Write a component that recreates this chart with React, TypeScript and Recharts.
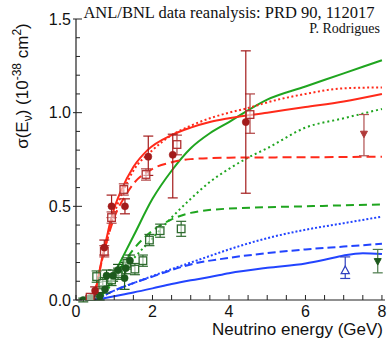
import React from 'react';
import { ComposedChart, Line, Scatter, XAxis, YAxis, ErrorBar } from 'recharts';

// Theory curves: [E (GeV), sigma (1e-38 cm^2)]
const redSolid: [number, number][] = [
  [0.45, 0], [0.5, 0.04], [0.6, 0.14], [0.7, 0.24], [0.8, 0.33], [0.9, 0.42], [1.0, 0.49],
  [1.17, 0.58], [1.5, 0.71], [1.87, 0.8], [2.5, 0.88], [3.0, 0.92], [3.5, 0.95], [4.0, 0.97],
  [5.0, 1.0], [6.0, 1.03], [7.0, 1.06], [8.0, 1.1],
];
const redDotted: [number, number][] = [
  [0.42, 0], [0.5, 0.05], [0.6, 0.14], [0.7, 0.23], [0.8, 0.31], [1.0, 0.46], [1.25, 0.59],
  [1.5, 0.69], [2.0, 0.8], [2.5, 0.88], [3.0, 0.93], [3.5, 0.97], [4.0, 1.0], [4.5, 1.025],
  [5.0, 1.055], [6.0, 1.1], [7.0, 1.13], [8.0, 1.135],
];
const redDashed: [number, number][] = [
  [0.45, 0], [0.5, 0.04], [0.6, 0.14], [0.7, 0.23], [0.8, 0.31], [1.0, 0.44], [1.3, 0.56],
  [1.5, 0.62], [2.0, 0.7], [2.5, 0.735], [3.0, 0.752], [4.0, 0.76], [6.0, 0.762], [8.0, 0.765],
];
const greenSolid: [number, number][] = [
  [0.58, 0], [0.8, 0.06], [1.0, 0.14], [1.5, 0.34], [2.0, 0.54], [2.5, 0.69], [3.0, 0.81],
  [3.5, 0.89], [4.0, 0.95], [5.0, 1.07], [6.0, 1.14], [7.0, 1.21], [8.0, 1.28],
];
const greenDotted: [number, number][] = [
  [0.6, 0], [1.0, 0.1], [1.5, 0.22], [2.0, 0.33], [2.5, 0.44], [3.0, 0.54], [3.5, 0.63],
  [4.0, 0.7], [4.5, 0.76], [5.0, 0.81], [6.0, 0.92], [7.0, 0.97], [8.0, 1.02],
];
const greenDashed: [number, number][] = [
  [0.6, 0], [1.0, 0.12], [1.5, 0.27], [2.0, 0.37], [2.5, 0.43], [3.0, 0.465], [4.0, 0.488],
  [6.0, 0.5], [8.0, 0.51],
];
const blueSolid: [number, number][] = [
  [0.5, 0], [1.0, 0.02], [1.5, 0.04], [2.0, 0.062], [2.5, 0.085], [3.0, 0.105], [3.5, 0.123],
  [4.0, 0.143], [5.0, 0.172], [6.0, 0.195], [6.5, 0.215], [7.0, 0.238], [7.5, 0.25], [8.0, 0.245],
];
const blueDashed: [number, number][] = [
  [0.5, 0], [1.0, 0.05], [1.5, 0.09], [2.0, 0.125], [2.5, 0.16], [3.0, 0.19], [4.0, 0.225],
  [5.0, 0.25], [6.0, 0.27], [7.0, 0.285], [8.0, 0.3],
];
const blueDotted: [number, number][] = [
  [0.5, 0], [1.0, 0.05], [1.5, 0.09], [2.0, 0.128], [2.5, 0.165], [3.0, 0.2], [3.5, 0.235],
  [4.0, 0.27], [5.0, 0.33], [6.0, 0.375], [7.0, 0.41], [8.0, 0.445],
];

// Data points: [E, sigma, errDown, errUp]
const redCircles: [number, number, number, number][] = [
  [0.5, 0.05, 0.02, 0.02], [0.74, 0.28, 0.04, 0.04], [0.93, 0.5, 0.06, 0.06],
  [1.28, 0.5, 0.04, 0.04], [1.89, 0.765, 0.1, 0.11], [2.53, 0.775, 0.23, 0.11],
  [4.44, 0.95, 0.38, 0.38],
];
const redSquares: [number, number, number, number][] = [
  [0.37, 0.015, 0.01, 0.01], [0.74, 0.26, 0.03, 0.03], [0.93, 0.44, 0.03, 0.03],
  [1.25, 0.59, 0.03, 0.03], [1.83, 0.67, 0.03, 0.03], [2.64, 0.83, 0.055, 0.05],
  [4.55, 0.99, 0.1, 0.11],
];
const redLimit: [number, number, number, number][] = [[7.53, 0.885, 0.115, 0.105]];
const greenCircles: [number, number, number, number][] = [
  [0.19, 0.0, 0.01, 0.01], [0.37, 0.01, 0.01, 0.01], [0.62, 0.02, 0.02, 0.02],
  [0.76, 0.057, 0.02, 0.02], [0.8, 0.13, 0.03, 0.03], [0.97, 0.13, 0.03, 0.03],
  [1.1, 0.16, 0.03, 0.03], [1.27, 0.117, 0.06, 0.06], [1.3, 0.17, 0.03, 0.03],
  [1.41, 0.21, 0.03, 0.03],
];
const greenSquares: [number, number, number, number][] = [
  [0.54, 0.125, 0.03, 0.03], [0.7, 0.09, 0.03, 0.03], [0.93, 0.107, 0.03, 0.03],
  [1.1, 0.14, 0.03, 0.03], [1.33, 0.195, 0.03, 0.03], [1.54, 0.165, 0.03, 0.03],
  [1.75, 0.21, 0.03, 0.03], [1.92, 0.32, 0.03, 0.03], [2.2, 0.37, 0.035, 0.035],
  [2.75, 0.38, 0.04, 0.04],
];
const greenLimit: [number, number, number, number][] = [[7.89, 0.205, 0.06, 0.065]];
const blueTriangle: [number, number, number, number][] = [[7.04, 0.16, 0.045, 0.07]];

const xTicks = [0, 0.5, 1, 1.5, 2, 2.5, 3, 3.5, 4, 4.5, 5, 5.5, 6, 6.5, 7, 7.5, 8];
const xLabels = [0, 2, 4, 6, 8];
const yTicks = [0, 0.1, 0.2, 0.3, 0.4, 0.5, 0.6, 0.7, 0.8, 0.9, 1.0, 1.1, 1.2, 1.3, 1.4, 1.5];
const yLabels = ['0.0', '0.5', '1.0', '1.5'];

const RED = '#ff2a1a';
const GREEN = '#1fa51f';
const BLUE = '#2244ff';
const DRED = '#a31b1b';
const DGREEN = '#1d5a1d';
const DBLUE = '#3040c0';

const toPts = (a: [number, number][]) => a.map(([x, y]) => ({ x, y }));
const toErr = (a: [number, number, number, number][]) =>
  a.map(([x, y, d, u]) => ({ x, y, err: [d, u] }));

const SANS = '"Liberation Sans", Arial, sans-serif';
const SERIF = '"Liberation Serif", "Times New Roman", serif';

const XTick = (props: any) => {
  const { x, y, payload } = props;
  const v = payload.value;
  const isLabel = xLabels.some((l) => Math.abs(l - v) < 1e-6);
  return (
    <g>
      <line x1={x} x2={x} y1={y} y2={y - 5} stroke="#222" strokeWidth={1} />
      {isLabel && (
        <text x={x} y={y + 17} textAnchor="middle" fontFamily={SANS} fontSize={16} fill="#111">
          {v}
        </text>
      )}
    </g>
  );
};

const YTick = (props: any) => {
  const { x, y, payload } = props;
  const v = payload.value;
  const major = Math.abs(v * 2 - Math.round(v * 2)) < 1e-6;
  const idx = Math.round(v * 2);
  return (
    <g>
      <line x1={major ? x - 3 : x} x2={x + (major ? 6 : 4)} y1={y} y2={y} stroke="#222" strokeWidth={1} />
      {major && (
        <text x={x - 5} y={y + 5.5} textAnchor="end" fontFamily={SANS} fontSize={16} fill="#111">
          {yLabels[idx]}
        </text>
      )}
    </g>
  );
};

const circleShape = (color: string) => (p: any) => (
  <circle cx={p.cx} cy={p.cy} r={3.6} fill={color} stroke={color} strokeWidth={0.5} />
);
const squareShape = (color: string) => (p: any) => (
  <rect x={p.cx - 3.8} y={p.cy - 3.8} width={7.6} height={7.6} fill="rgba(255,255,255,0.55)" stroke={color} strokeWidth={1.3} />
);
const downTri = (color: string) => (p: any) => (
  <path d={`M${p.cx - 3.5},${p.cy - 3} L${p.cx + 3.5},${p.cy - 3} L${p.cx},${p.cy + 3.5} Z`} fill={color} stroke={color} strokeWidth={1} />
);
const upTri = (color: string) => (p: any) => (
  <path d={`M${p.cx - 4},${p.cy + 3.5} L${p.cx + 4},${p.cy + 3.5} L${p.cx},${p.cy - 4} Z`} fill="#fff" stroke={color} strokeWidth={1.3} />
);

const lineSeries: { data: [number, number][]; color: string; dash?: string }[] = [
  { data: blueSolid, color: BLUE },
  { data: blueDashed, color: BLUE, dash: '8 4' },
  { data: blueDotted, color: BLUE, dash: '2 2' },
  { data: greenDashed, color: GREEN, dash: '8 5' },
  { data: greenDotted, color: GREEN, dash: '2 3' },
  { data: greenSolid, color: GREEN },
  { data: redDashed, color: RED, dash: '9 5' },
  { data: redDotted, color: RED, dash: '2 2.5' },
  { data: redSolid, color: RED },
];

const scatterSeries: { data: [number, number, number, number][]; shape: any; err: string }[] = [
  { data: greenSquares, shape: squareShape('#2e6b2e'), err: '#2e6b2e' },
  { data: greenCircles, shape: circleShape(DGREEN), err: DGREEN },
  { data: greenLimit, shape: downTri(DGREEN), err: '#4a7a4a' },
  { data: blueTriangle, shape: upTri(DBLUE), err: DBLUE },
  { data: redSquares, shape: squareShape('#b03030'), err: '#b04040' },
  { data: redCircles, shape: circleShape(DRED), err: DRED },
  { data: redLimit, shape: downTri('#b03a3a'), err: '#b05050' },
];

export default function App() {
  return (
    <div style={{ position: 'absolute', left: 0, top: 0, width: 387, height: 342, background: '#fff' }}>
      <ComposedChart width={387} height={342} margin={{ top: 19, right: 2, bottom: 0, left: 0 }}>
        <XAxis
          dataKey="x"
          type="number"
          domain={[0, 8.08]}
          allowDataOverflow
          ticks={xTicks}
          interval={0}
          tick={XTick}
          tickLine={false}
          tickSize={0}
          tickMargin={0}
          height={42}
          axisLine={{ stroke: '#222', strokeWidth: 1.2 }}
        />
        <XAxis
          xAxisId="top"
          orientation="top"
          type="number"
          domain={[0, 8.08]}
          tick={false}
          tickLine={false}
          height={0}
          axisLine={{ stroke: '#222', strokeWidth: 1.2 }}
        />
        <YAxis
          type="number"
          domain={[0, 1.5]}
          allowDataOverflow
          ticks={yTicks}
          interval={0}
          tick={YTick}
          tickLine={false}
          tickSize={0}
          tickMargin={0}
          width={76}
          axisLine={{ stroke: '#222', strokeWidth: 1.2 }}
        />
        <YAxis
          yAxisId="right"
          orientation="right"
          type="number"
          domain={[0, 1.5]}
          tick={false}
          tickLine={false}
          width={0}
          axisLine={{ stroke: '#222', strokeWidth: 1.2 }}
        />
        {lineSeries.map((s, i) => (
          <Line
            key={'l' + i}
            data={toPts(s.data)}
            dataKey="y"
            type="monotone"
            stroke={s.color}
            strokeWidth={2}
            strokeDasharray={s.dash}
            dot={false}
            activeDot={false}
            isAnimationActive={false}
          />
        ))}
        {scatterSeries.map((s, i) => (
          <Scatter key={'s' + i} data={toErr(s.data)} dataKey="y" shape={s.shape} isAnimationActive={false}>
            <ErrorBar dataKey="err" direction="y" width={5} stroke={s.err} strokeWidth={1.2} />
          </Scatter>
        ))}
      </ComposedChart>
      <svg width={387} height={342} style={{ position: 'absolute', left: 0, top: 0, pointerEvents: 'none' }}>
        <text x={229} y={18} textAnchor="middle" fontFamily={SERIF} fontSize={16.5} fill="#111">
          ANL/BNL data reanalysis: PRD 90, 112017
        </text>
        <text x={380} y={33} textAnchor="end" fontFamily={SERIF} fontSize={14} fill="#111">
          P. Rodrigues
        </text>
        <text x={383} y={335} textAnchor="end" fontFamily={SANS} fontSize={17} fill="#111">
          Neutrino energy (GeV)
        </text>
        <text
          transform="translate(28,86) rotate(-90)"
          textAnchor="middle"
          fontFamily={SANS}
          fontSize={17}
          fill="#111"
        >
          σ(E<tspan fontSize={12} dy={4}>ν</tspan>
          <tspan dy={-4}>) (10</tspan>
          <tspan fontSize={12} dy={-7}>-38</tspan>
          <tspan dy={7}> cm</tspan>
          <tspan fontSize={12} dy={-7}>2</tspan>
          <tspan dy={7}>)</tspan>
        </text>
      </svg>
    </div>
  );
}
